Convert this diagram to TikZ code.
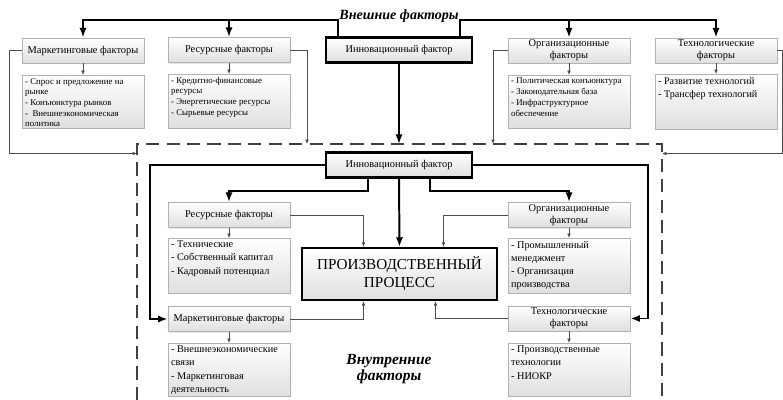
\documentclass[tikz,border=0pt]{standalone}
\usepackage{fontspec}
\setmainfont{Liberation Serif}
\usetikzlibrary{arrows.meta, positioning, calc, shadows}

\newcommand{\bloc}[2]{\parbox[t][#1][t]{2.91cm}{\raggedright #2}}

\begin{document}
\begin{tikzpicture}[x=0.025cm,y=-0.025cm,>={Latex[length=1.1mm,width=0.9mm]},
    facteur/.style={draw=gray!60, line width=0.5pt, top color=white, bottom color=gray!25,
        drop shadow={opacity=0.2, shadow xshift=0.7pt, shadow yshift=-0.7pt},
        minimum width=3.05cm, minimum height=0.63cm, inner sep=0.5pt, align=center,
        font=\fontsize{7.4}{8.5}\selectfont},
    innov/.style={facteur, draw=black, line width=1.6pt, minimum width=3.65cm},
    pp/.style={innov, minimum width=4.875cm, minimum height=1.3cm, font=\fontsize{10.8}{12.8}\selectfont},
    listeA/.style={facteur, anchor=north west, align=left, inner sep=0.07cm, font=\fontsize{6.3}{7.6}\selectfont},
    listeB/.style={listeA, font=\fontsize{7.3}{9.3}\selectfont},
    gros/.style={line width=1.4pt, -{Latex[length=2.4mm,width=1.8mm]}},
    fin/.style={line width=0.5pt, draw=black!70, ->},
    titre/.style={font=\fontsize{10}{11.3}\selectfont\bfseries\itshape, align=center}]
    \useasboundingbox (0,0) rectangle (783,400);

    % Facteurs externes
    \node[titre] (ext) at (399,16) {Внешние факторы};
    \node[facteur] (mkE) at (83,50.5) {Маркетинговые факторы};
    \node[facteur] (resE) at (229,50) {Ресурсные факторы};
    \node[innov] (innE) at (399,50) {Инновационный фактор};
    \node[facteur] (orgE) at (569,50.5) {Организационные\\факторы};
    \node[facteur] (techE) at (716,50.5) {Технологические\\факторы};

    \node[listeA] (mkEs) at (22,75) {\bloc{1.185cm}{- Спрос и предложение на\\рынке\\- Конъюнктура рынков\\-\ \ Внешнеэкономическая\\политика}};
    \node[listeA] (resEs) at (168,74) {\bloc{1.21cm}{- Кредитно-финансовые\\ресурсы\\- Энергетические ресурсы\\- Сырьевые ресурсы}};
    \node[listeA] (orgEs) at (508,75) {\bloc{1.185cm}{- Политическая конъюнктура\\- Законодательная база\\- Инфраструктурное\\обеспечение}};
    \node[listeA, font=\fontsize{7.2}{9.3}\selectfont] (techEs) at (655,74) {\bloc{1.235cm}{- Развитие технологий\\- Трансфер технологий}};

    % Cadre des facteurs internes
    \draw[line width=1.1pt, black!75, dash pattern=on 0.33cm off 0.18cm] (137,400) -- (137,144) -- (662,144) -- (662,400);
    \coordinate (cG) at (137,153.5);
    \coordinate (cR) at (307,144);
    \coordinate (cI) at (399,144);
    \coordinate (cO) at (493,144);
    \coordinate (cD) at (662,153.5);

    % Facteurs internes
    \node[innov] (innI) at (399,165) {Инновационный фактор};
    \node[facteur] (resI) at (229,215) {Ресурсные факторы};
    \node[facteur] (orgI) at (569,215) {Организационные\\факторы};
    \node[pp] (pp) at (399.5,274) {ПРОИЗВОДСТВЕННЫЙ\\ПРОЦЕСС};
    \node[facteur] (mkI) at (229,319) {Маркетинговые факторы};
    \node[facteur] (techI) at (569,318.5) {Технологические\\факторы};

    \node[listeB] (resIs) at (168,238) {\bloc{1.235cm}{- Технические\\- Собственный капитал\\- Кадровый потенциал}};
    \node[listeB] (orgIs) at (508,238) {\bloc{1.235cm}{- Промышленный\\менеджмент\\- Организация\\производства}};
    \node[listeB] (mkIs) at (168,343) {\bloc{1.185cm}{- Внешнеэкономические\\связи\\- Маркетинговая\\деятельность}};
    \node[listeB] (techIs) at (508,343) {\bloc{1.185cm}{- Производственные\\технологии\\- НИОКР}};
    \node[titre, font=\fontsize{11}{11.5}\selectfont\bfseries\itshape] (int) at (389,369) {Внутренние\\факторы};

    % Liaisons externes
    \coordinate (gH) at (338,20);
    \coordinate (dH) at (460,20);
    \draw[gros] (innE.north -| gH) -- (gH) -| (mkE.north);
    \draw[gros] (resE.north |- gH) -- (resE.north);
    \draw[gros] (innE.north -| dH) -- (dH) -| (techE.north);
    \draw[gros] (orgE.north |- dH) -- (orgE.north);
    \draw[gros] (innE.south) -- (cI);
    \foreach \a/\b in {mkE/mkEs, resE/resEs, orgE/orgEs, techE/techEs}
        \draw[fin] (\a.south) -- (\a.south |- \b.north);
    \draw[fin] (mkE.west) -- ++(-12,0) |- (cG);
    \draw[fin] (resE.east) -| (cR);
    \draw[fin] (orgE.west) -| (cO);
    \draw[fin] (techE.east) -- ++(5,0) |- (cD);

    % Liaisons internes
    \draw[gros] (innI.south) -- (pp.north);
    \draw[gros] ($(innI.south)+(-31,0)$) -- ++(0,12.5) -| (resI.north);
    \draw[gros] ($(innI.south)+(31,0)$) -- ++(0,12.5) -| (orgI.north);
    \draw[gros] (innI.west) -| ($(mkI.west)+(-18,0)$) -- (mkI.west);
    \draw[gros] (innI.east) -| ($(techI.east)+(18,0)$) -- (techI.east);
    \foreach \a/\b in {resI/resIs, orgI/orgIs, mkI/mkIs, techI/techIs}
        \draw[fin] (\a.south) -- (\a.south |- \b.north);
    \draw[fin] (resI.east) -| ($(pp.north)+(-36,0)$);
    \draw[fin] (orgI.west) -| ($(pp.north)+(44,0)$);
    \draw[fin] (mkI.east) -| ($(pp.south)+(-36,0)$);
    \draw[fin] (techI.west) -| ($(pp.south)+(36,0)$);
\end{tikzpicture}
\end{document}
